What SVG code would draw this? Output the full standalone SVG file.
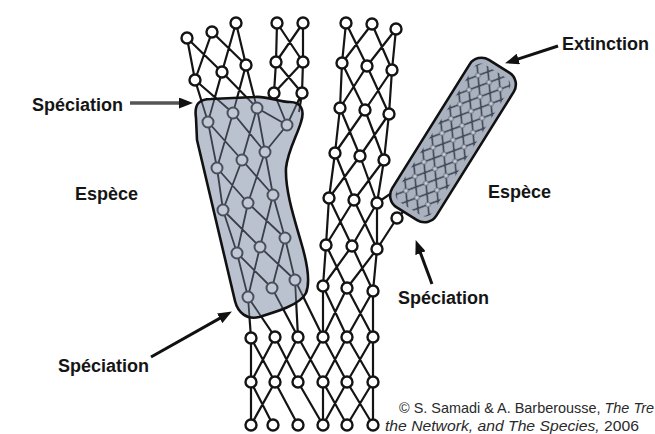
<svg xmlns="http://www.w3.org/2000/svg" xmlns:xlink="http://www.w3.org/1999/xlink" width="655" height="434" viewBox="0 0 655 434">
<style>
.ln{stroke:#141414;stroke-width:2.2;fill:none;stroke-linecap:round}
.lnIn{stroke:#3a3f48;stroke-width:1.8;fill:none}
.nd{fill:#fff;stroke:#141414;stroke-width:2.4}
.ndIn{fill:#c2c9d4;stroke:#4a505b;stroke-width:2}
.shape{fill:#bac2cf}
.shapeR{fill:#aab2c0}
.outline{fill:none;stroke:#111;stroke-width:2.6;stroke-linejoin:round}
.lbl{font-family:"Liberation Sans",Arial,sans-serif;font-weight:bold;font-size:18px;fill:#151515}
.cr{font-family:"Liberation Sans",Arial,sans-serif;font-size:14.5px;fill:#2a2a2a}
.arr{stroke:#111;stroke-width:3;fill:none}
</style>
<defs>
<marker id="ah" viewBox="0 0 14 11" refX="3" refY="5.5" markerWidth="14" markerHeight="11" markerUnits="userSpaceOnUse" orient="auto"><path d="M0 0L14 5.5L0 11Z" fill="#111"/></marker>
<path id="shpL" d="M196,118 C194,104 199,99 211,99 L255,97 C268,96 278,102 290,102 C301,102 305,110 301,122 C297,136 288,150 286,168 C285,190 294,218 301,242 C307,262 311,281 306,293 C300,305 276,312 259,317 C247,320 238,313 235,301 L197,140 Z"/>
<clipPath id="clipL"><use xlink:href="#shpL"/></clipPath>
<pattern id="hatch" patternUnits="userSpaceOnUse" width="13" height="17">
<path d="M0 0L13 17M13 0L0 17" stroke="#363d4a" stroke-width="1.4"/>
<g fill="#c9cfd9" stroke="#5a6170" stroke-width="0.9"><circle cx="0" cy="0" r="2.3"/><circle cx="13" cy="0" r="2.3"/><circle cx="0" cy="17" r="2.3"/><circle cx="13" cy="17" r="2.3"/></g>
</pattern>
<path id="latLines" d="
M187 38L195 80M187 38L222 72M212 32L195 80M212 32L246 65M236 23L222 72M236 23L246 65
M195 80L208 122M195 80L233 113M222 72L208 122M222 72L257 108M246 65L233 113M246 65L257 108
M208 122L217 168M208 122L242 160M233 113L217 168M233 113L265 152M257 108L242 160M257 108L265 152
M217 168L223 210M217 168L248 203M242 160L223 210M242 160L273 195M265 152L248 203M265 152L273 195
M223 210L237 253M223 210L260 247M248 203L237 253M248 203L285 238M273 195L260 247M273 195L285 238
M237 253L248 297M237 253L272 288M260 247L248 297M260 247L295 280M285 238L272 288M285 238L295 280
M277 23L276 62M303 23L303 62M277 23L303 62M303 23L276 62
M276 62L274 93M303 62L302 93M276 62L302 93M303 62L274 93
M274 93L287 125M302 93L287 125M302 93L299 112M287 125L265 152M287 125L257 108
M346 23L342 63M346 23L367 66M372 24L342 63M372 24L392 70M396 29L367 66M396 29L392 70
M342 63L340 108M342 63L365 110M367 66L340 108M367 66L389 114M392 70L365 110M392 70L389 114
M340 108L335 153M340 108L360 156M365 110L335 153M365 110L384 160M389 114L360 156M389 114L384 160
M335 153L329 198M335 153L354 200M360 156L329 198M360 156L377 203M384 160L354 200M384 160L377 203
M329 198L326 245M329 198L352 246M354 200L326 245M354 200L377 249M377 203L352 246M377 203L377 249
M326 245L323 286M326 245L347 288M352 246L323 286M352 246L373 291M377 249L347 288M377 249L373 291
M397 218L377 249M397 218L408 207M377 203L393 192
M248 297L251 338M248 297L275 337M272 288L298 337M295 280L298 337M295 280L323 337
M323 286L323 337M323 286L347 337M347 288L323 337M347 288L373 337M373 291L347 337M373 291L373 337
M251 338L251 382M373 337L373 382
M251 338L275 382M275 337L251 382M275 337L298 382M298 337L275 382M298 337L323 382M323 337L298 382M323 337L347 382M347 337L323 382M347 337L373 382M373 337L347 382
M251 382L251 425M373 382L373 425M323 382L323 425
M251 382L273 425M275 382L251 425M275 382L298 425M298 382L323 425
M323 382L347 425M347 382L323 425M347 382L373 425M373 382L347 425"/>
<g id="latNodes">
<circle cx="187" cy="38" r="5.5"/><circle cx="212" cy="32" r="5.5"/><circle cx="236" cy="23" r="5.5"/>
<circle cx="195" cy="80" r="5.5"/><circle cx="222" cy="72" r="5.5"/><circle cx="246" cy="65" r="5.5"/>
<circle cx="208" cy="122" r="5.5"/><circle cx="233" cy="113" r="5.5"/><circle cx="257" cy="108" r="5.5"/>
<circle cx="217" cy="168" r="5.5"/><circle cx="242" cy="160" r="5.5"/><circle cx="265" cy="152" r="5.5"/>
<circle cx="223" cy="210" r="5.5"/><circle cx="248" cy="203" r="5.5"/><circle cx="273" cy="195" r="5.5"/>
<circle cx="237" cy="253" r="5.5"/><circle cx="260" cy="247" r="5.5"/><circle cx="285" cy="238" r="5.5"/>
<circle cx="248" cy="297" r="5.5"/><circle cx="272" cy="288" r="5.5"/><circle cx="295" cy="280" r="5.5"/>
<circle cx="277" cy="23" r="5.5"/><circle cx="303" cy="23" r="5.5"/>
<circle cx="276" cy="62" r="5.5"/><circle cx="303" cy="62" r="5.5"/>
<circle cx="274" cy="93" r="5.5"/><circle cx="302" cy="93" r="5.5"/>
<circle cx="287" cy="125" r="5.5"/>
<circle cx="346" cy="23" r="5.5"/><circle cx="372" cy="24" r="5.5"/><circle cx="396" cy="29" r="5.5"/>
<circle cx="342" cy="63" r="5.5"/><circle cx="367" cy="66" r="5.5"/><circle cx="392" cy="70" r="5.5"/>
<circle cx="340" cy="108" r="5.5"/><circle cx="365" cy="110" r="5.5"/><circle cx="389" cy="114" r="5.5"/>
<circle cx="335" cy="153" r="5.5"/><circle cx="360" cy="156" r="5.5"/><circle cx="384" cy="160" r="5.5"/>
<circle cx="329" cy="198" r="5.5"/><circle cx="354" cy="200" r="5.5"/><circle cx="377" cy="203" r="5.5"/>
<circle cx="326" cy="245" r="5.5"/><circle cx="352" cy="246" r="5.5"/><circle cx="377" cy="249" r="5.5"/>
<circle cx="323" cy="286" r="5.5"/><circle cx="347" cy="288" r="5.5"/><circle cx="373" cy="291" r="5.5"/>
<circle cx="397" cy="218" r="5.5"/>
<circle cx="251" cy="338" r="5.5"/><circle cx="275" cy="337" r="5.5"/><circle cx="298" cy="337" r="5.5"/><circle cx="323" cy="337" r="5.5"/><circle cx="347" cy="337" r="5.5"/><circle cx="373" cy="337" r="5.5"/>
<circle cx="251" cy="382" r="5.5"/><circle cx="275" cy="382" r="5.5"/><circle cx="298" cy="382" r="5.5"/><circle cx="323" cy="382" r="5.5"/><circle cx="347" cy="382" r="5.5"/><circle cx="373" cy="382" r="5.5"/>
<circle cx="251" cy="425" r="5.5"/><circle cx="273" cy="425" r="5.5"/><circle cx="298" cy="425" r="5.5"/><circle cx="323" cy="425" r="5.5"/><circle cx="347" cy="425" r="5.5"/><circle cx="373" cy="425" r="5.5"/>
</g>
</defs>
<rect width="655" height="434" fill="#fff"/>
<g id="network">
<use xlink:href="#latLines" class="ln"/>
<use xlink:href="#latNodes" class="nd"/>
</g>
<g id="species-left">
<use xlink:href="#shpL" class="shape"/>
<g clip-path="url(#clipL)">
<use xlink:href="#latLines" class="lnIn"/>
<use xlink:href="#latNodes" class="ndIn"/>
</g>
<use xlink:href="#shpL" class="outline"/>
</g>
<g id="species-right" transform="translate(453,140) rotate(32)">
<rect x="-26" y="-87" width="52" height="174" rx="14" class="shapeR"/>
<rect x="-21" y="-81" width="42" height="162" rx="9" fill="url(#hatch)"/>
<rect x="-26" y="-87" width="52" height="174" rx="14" class="outline"/>
</g>
<g id="connectors">
<line x1="130" y1="103" x2="182" y2="103" stroke="#555" stroke-width="3.5" marker-end="url(#ah)"/>
<line x1="558" y1="46" x2="515.5" y2="59.9" class="arr" marker-end="url(#ah)"/>
<line x1="432" y1="284" x2="419.5" y2="250.4" class="arr" marker-end="url(#ah)"/>
<line x1="151" y1="357" x2="222.3" y2="316.9" class="arr" marker-end="url(#ah)"/>
</g>
<g id="labels">
<text x="32" y="111" class="lbl">Spéciation</text>
<text x="75" y="200" class="lbl">Espèce</text>
<text x="562" y="50" class="lbl">Extinction</text>
<text x="488" y="198" class="lbl">Espèce</text>
<text x="398" y="304" class="lbl">Spéciation</text>
<text x="58" y="372" class="lbl">Spéciation</text>
</g>
<g id="credit">
<text x="399" y="413" class="cr" textLength="255" lengthAdjust="spacingAndGlyphs">© S. Samadi &amp; A. Barberousse, <tspan font-style="italic">The Tre</tspan></text>
<text x="385" y="431" class="cr" textLength="254" lengthAdjust="spacingAndGlyphs"><tspan font-style="italic">the Network, and The Species,</tspan> 2006</text>
</g>
</svg>
